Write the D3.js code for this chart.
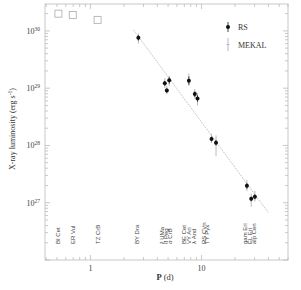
<!DOCTYPE html>
<html><head><meta charset="utf-8">
<script src="https://cdn.jsdelivr.net/npm/d3@7"></script>
<style>body{margin:0;background:#fff}svg{display:block}</style>
</head><body>
<script>
// RS fit points: period (days) and X-ray luminosity (erg/s)
const rsPeriod = [2.7, 4.67, 4.87, 5.12, 7.69, 8.7, 9.2, 12.3, 13.5, 25.6, 28.0, 30.2];
const rsLum    = [7.6e29, 1.22e29, 9.1e28, 1.38e29, 1.35e29, 7.9e28, 6.6e28, 1.3e28, 1.12e28, 1.97e27, 1.17e27, 1.27e27];
const rsLo     = [6.8e29, 1.1e29, 8.3e28, 1.2e29, 1.15e29, 7.0e28, 5.8e28, 1.18e28, 1.0e28, 1.75e27, 1.06e27, 1.15e27];
const rsHi     = [8.4e29, 1.34e29, 1.0e29, 1.55e29, 1.6e29, 8.8e28, 7.5e28, 1.42e28, 1.25e28, 2.2e27, 1.28e27, 1.4e27];
// MEKAL fit points
const mkPeriod = [2.7, 4.67, 4.87, 5.12, 7.69, 8.7, 9.2, 12.3, 13.5, 25.6, 28.0, 30.2];
const mkLum    = [7.4e29, 1.25e29, 9.4e28, 1.33e29, 1.4e29, 8.2e28, 6.4e28, 1.35e28, 1.08e28, 2.0e27, 1.13e27, 1.3e27];
const mkLo     = [6.0e29, 1.0e29, 7.8e28, 1.1e29, 1.1e29, 6.6e28, 5.0e28, 1.1e28, 6.5e27, 1.6e27, 8.5e26, 1.05e27];
const mkHi     = [9.0e29, 1.5e29, 1.1e29, 1.65e29, 1.8e29, 9.6e28, 8.2e28, 1.6e28, 1.5e28, 2.5e27, 1.45e27, 1.6e27];
// Open squares (top)
const sqPeriod = [0.515, 0.693, 1.16];
const sqLum    = [2.0e30, 1.9e30, 1.56e30];
// Fitted power law (end points)
const fitPeriod = [2.44, 40.0];
const fitLum    = [1.04e30, 6.7e26];
// Star names along the bottom
const starNames  = ["BI Cet", "ER Vul", "TZ CrB", "BY Dra", "ξ UMa", "II Peg", "σ CrB", "BE Cet", "VY Ari", "λ And", "RS CVn", "TY Pyx", "gam Eri", "EL Eri", "alp Cen"];
const starPeriod = [0.515, 0.69, 1.16, 2.6, 4.45, 4.8, 5.15, 6.95, 7.7, 8.6, 10.5, 11.3, 24.8, 27.2, 29.8];
// Axis tick labels
const xTickVals = [1, 10];
const xTickLabels = ["1", "10"];
const yTickExps = [27, 28, 29, 30];

const W = 301, H = 290;
const m = {l: 45, r: 13, t: 4, b: 30};
const svg = d3.select("body").append("svg").attr("width", W).attr("height", H);
const x = d3.scaleLog().domain([0.39, 60]).range([m.l, W - m.r]);
const y = d3.scaleLog().domain([1e26, 2.95e30]).range([H - m.b, m.t]);
const axisCol = "#bbb";
const serif = "'Liberation Serif','DejaVu Serif',serif";

// frame
svg.append("rect").attr("x", m.l).attr("y", m.t).attr("width", W - m.l - m.r).attr("height", H - m.t - m.b)
  .attr("fill", "none").attr("stroke", axisCol).attr("stroke-width", 0.8);

// ticks
const g = svg.append("g").attr("stroke", axisCol).attr("stroke-width", 0.8);
const xt = [];
for (let e = -1; e <= 1; e++) for (let k = 1; k <= 9; k++) { const v = k * Math.pow(10, e); if (v >= 0.39 && v <= 60) xt.push([v, k === 1]); }
xt.forEach(([v, maj]) => {
  const px = x(v), L = maj ? 5 : 3;
  g.append("line").attr("x1", px).attr("x2", px).attr("y1", H - m.b).attr("y2", H - m.b - L);
  g.append("line").attr("x1", px).attr("x2", px).attr("y1", m.t).attr("y2", m.t + L);
});
const yt = [];
for (let e = 26; e <= 30; e++) for (let k = 1; k <= 9; k++) { const v = k * Math.pow(10, e); if (v >= 1e26 && v <= 2.95e30) yt.push([v, k === 1]); }
yt.forEach(([v, maj]) => {
  const py = y(v), L = maj ? 5 : 3;
  g.append("line").attr("y1", py).attr("y2", py).attr("x1", m.l).attr("x2", m.l + L);
  g.append("line").attr("y1", py).attr("y2", py).attr("x1", W - m.r).attr("x2", W - m.r - L);
});

// tick labels
xTickVals.forEach((v, i) => {
  svg.append("text").attr("x", x(v)).attr("y", 271).attr("text-anchor", "middle")
    .attr("font-family", serif).attr("font-size", 8).attr("fill", "#444").text(xTickLabels[i]);
});
yTickExps.forEach(e => {
  const t = svg.append("text").attr("x", 40).attr("y", y(Math.pow(10, e)) + 3).attr("text-anchor", "end")
    .attr("font-family", serif).attr("font-size", 8).attr("fill", "#444");
  t.append("tspan").text("10");
  t.append("tspan").attr("dy", -3).attr("font-size", 5.5).text(e);
});

// axis titles
const xl = svg.append("text").attr("x", 165).attr("y", 280).attr("text-anchor", "middle")
  .attr("font-family", serif).attr("font-size", 8.5).attr("fill", "#333");
xl.append("tspan").attr("font-weight", "bold").text("P");
xl.append("tspan").text(" (d)");
const yl = svg.append("text").attr("transform", "translate(15,129) rotate(-90)").attr("text-anchor", "middle")
  .attr("font-family", serif).attr("font-size", 8).attr("fill", "#333");
yl.append("tspan").text("X-ray luminosity (erg s");
yl.append("tspan").attr("dy", -3).attr("font-size", 5.5).text("-1");
yl.append("tspan").attr("dy", 3).text(")");

// fit line
svg.append("line").attr("x1", x(fitPeriod[0])).attr("y1", y(fitLum[0])).attr("x2", x(fitPeriod[1])).attr("y2", y(fitLum[1]))
  .attr("stroke", "#aaa").attr("stroke-width", 0.8).attr("stroke-dasharray", "1.2,1");

// open squares
svg.selectAll(".sq").data(sqPeriod).join("rect")
  .attr("x", (d, i) => x(d) - 3.5).attr("y", (d, i) => y(sqLum[i]) - 3.5).attr("width", 7).attr("height", 7)
  .attr("fill", "none").attr("stroke", "#aaa").attr("stroke-width", 0.8);

// MEKAL error bars (gray)
const mk = svg.append("g").attr("stroke", "#aaa").attr("stroke-width", 0.8);
mkPeriod.forEach((p, i) => {
  mk.append("line").attr("x1", x(p)).attr("x2", x(p)).attr("y1", y(mkLo[i])).attr("y2", y(mkHi[i]));
  mk.append("line").attr("x1", x(p) - 1.5).attr("x2", x(p) + 1.5).attr("y1", y(mkLum[i])).attr("y2", y(mkLum[i]));
});
// RS error bars + points
const rs = svg.append("g");
rsPeriod.forEach((p, i) => {
  rs.append("line").attr("x1", x(p)).attr("x2", x(p)).attr("y1", y(rsLo[i])).attr("y2", y(rsHi[i]))
    .attr("stroke", "#111").attr("stroke-width", 0.8);
  rs.append("circle").attr("cx", x(p)).attr("cy", y(rsLum[i])).attr("r", 2).attr("fill", "#111");
});

// legend
svg.append("line").attr("x1", 228).attr("x2", 228).attr("y1", 22).attr("y2", 32).attr("stroke", "#111").attr("stroke-width", 0.8);
svg.append("circle").attr("cx", 228).attr("cy", 27).attr("r", 2).attr("fill", "#111");
svg.append("text").attr("x", 238).attr("y", 30).attr("font-family", serif).attr("font-size", 8).attr("fill", "#333").text("RS");
svg.append("line").attr("x1", 228).attr("x2", 228).attr("y1", 38).attr("y2", 51).attr("stroke", "#aaa").attr("stroke-width", 0.8);
svg.append("line").attr("x1", 226.5).attr("x2", 229.5).attr("y1", 44.5).attr("y2", 44.5).attr("stroke", "#aaa").attr("stroke-width", 0.8);
svg.append("text").attr("x", 238).attr("y", 47.5).attr("font-family", serif).attr("font-size", 8).attr("fill", "#333").text("MEKAL");

// star names
starNames.forEach((n, i) => {
  svg.append("text").attr("transform", `translate(${x(starPeriod[i]) + 2},244) rotate(-90)`)
    .attr("font-family", "'Liberation Sans',sans-serif").attr("font-size", 6).attr("fill", "#444").text(n);
});
</script>
</body></html>
